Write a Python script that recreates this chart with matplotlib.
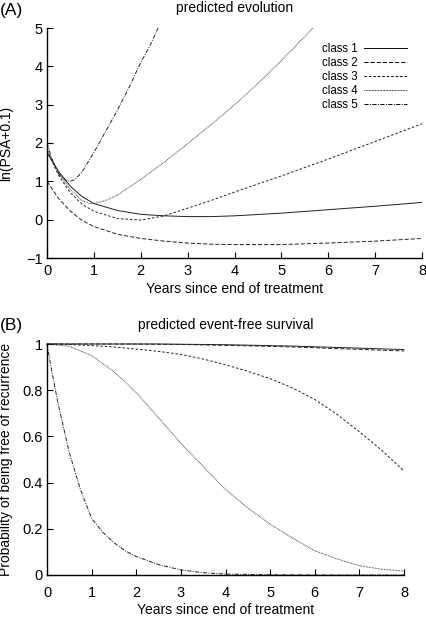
import numpy as np
import matplotlib
matplotlib.use('Agg')
import matplotlib.pyplot as plt

plt.rcParams['font.family'] = ['Liberation Sans', 'DejaVu Sans']
plt.rcParams['lines.scale_dashes'] = False

# ---- panel A: predicted evolution of ln(PSA+0.1) ----
t_a = [0, 0.25, 0.5, 0.75, 1, 1.5, 2, 2.5, 3, 3.5, 4, 5, 6, 7, 8]
a_class1 = [1.75, 1.25, 0.87, 0.60, 0.42, 0.24, 0.14, 0.10, 0.08, 0.08, 0.10, 0.17, 0.26, 0.35, 0.45]
a_class2 = [1.00, 0.55, 0.22, -0.02, -0.18, -0.38, -0.49, -0.56, -0.61, -0.64, -0.65, -0.65, -0.61, -0.56, -0.49]
a_class3 = [1.80, 1.15, 0.70, 0.40, 0.22, 0.03, -0.01, 0.10, 0.30, 0.50, 0.72, 1.14, 1.58, 2.04, 2.50]
t_a4 = [0, 0.25, 0.5, 0.75, 0.9, 1.0, 1.25, 1.5, 2, 2.5, 3, 3.5, 4, 4.5, 5, 5.5, 5.67]
a_class4 = [1.85, 1.20, 0.78, 0.50, 0.42, 0.42, 0.50, 0.64, 1.05, 1.50, 1.98, 2.48, 3.00, 3.55, 4.15, 4.78, 5.00]
t_a5 = [0, 0.1, 0.25, 0.4, 0.5, 0.6, 0.75, 1.0, 1.25, 1.5, 1.75, 2.0, 2.2, 2.37]
a_class5 = [2.00, 1.60, 1.20, 1.03, 1.00, 1.05, 1.25, 1.75, 2.30, 2.85, 3.45, 4.10, 4.55, 5.00]

# ---- panel B: predicted event-free survival ----
t_b = [0, 0.5, 1, 1.5, 2, 2.5, 3, 3.5, 4, 4.5, 5, 5.5, 6, 6.5, 7, 7.5, 8]
b_class1 = [1, 1, 1, 1, 1, 1, 0.999, 0.998, 0.997, 0.995, 0.993, 0.991, 0.988, 0.985, 0.982, 0.979, 0.976]
b_class2 = [1, 1, 1, 1, 1, 0.999, 0.998, 0.996, 0.994, 0.992, 0.990, 0.987, 0.984, 0.980, 0.977, 0.973, 0.970]
b_class3 = [1, 0.998, 0.993, 0.987, 0.978, 0.968, 0.955, 0.935, 0.91, 0.882, 0.85, 0.81, 0.76, 0.695, 0.62, 0.54, 0.45]
b_class4 = [1, 0.99, 0.95, 0.88, 0.79, 0.68, 0.57, 0.47, 0.37, 0.29, 0.22, 0.16, 0.105, 0.07, 0.04, 0.025, 0.017]
t_b5 = [0, 0.1, 0.25, 0.5, 0.75, 1, 1.25, 1.5, 1.75, 2, 2.5, 3, 3.5, 4, 5, 6, 7, 8]
b_class5 = [1, 0.89, 0.74, 0.53, 0.37, 0.245, 0.185, 0.14, 0.105, 0.08, 0.045, 0.022, 0.01, 0.004, 0.001, 0, 0, 0]

labels = ['class 1', 'class 2', 'class 3', 'class 4', 'class 5']
styles = ['-', (0, (3.0, 1.4)), (0, (1.8, 1.4)), (0, (0.5, 0.6)), (0, (3.0, 1.0, 0.7, 1.0))]

x_ticks = [0, 1, 2, 3, 4, 5, 6, 7, 8]
a_yticks = [-1, 0, 1, 2, 3, 4, 5]
a_yticklabels = ['\u22121', '0', '1', '2', '3', '4', '5']
b_yticks = [0, 0.2, 0.4, 0.6, 0.8, 1]
b_yticklabels = ['0', '0.2', '0.4', '0.6', '0.8', '1']

W, H = 426, 618
fig = plt.figure(figsize=(W / 100, H / 100), dpi=100)

def px_axes(x0, y0, x1, y1):
    # pixel box (left, top, right, bottom) -> figure fraction
    return fig.add_axes([x0 / W, 1 - y1 / H, (x1 - x0) / W, (y1 - y0) / H])

def style_axes(ax, xpad):
    for s in ['top', 'right']:
        ax.spines[s].set_visible(False)
    for s in ['left', 'bottom']:
        ax.spines[s].set_linewidth(1.0)
    ax.tick_params(direction='in', length=4, width=0.8, labelsize=10.5)
    ax.tick_params(axis='x', pad=xpad)
    ax.tick_params(axis='y', pad=3)
    ax.set_xlim(0, 8)
    ax.set_xticks(x_ticks)
    ax.set_xticklabels([str(v) for v in x_ticks])

lc = '#222222'
lw = 0.7

# panel A
ax1 = px_axes(47, 28, 422, 258)
style_axes(ax1, 4)
ax1.set_ylim(-1, 5)
ax1.set_yticks(a_yticks)
ax1.set_yticklabels(a_yticklabels)
a_x = [t_a, t_a, t_a, t_a4, t_a5]
a_y = [a_class1, a_class2, a_class3, a_class4, a_class5]
for xs, ys, ls, lab in zip(a_x, a_y, styles, labels):
    ax1.plot(xs, ys, color=lc, lw=lw, ls=ls, label=lab)
leg = ax1.legend(loc='upper right', bbox_to_anchor=(407 / W, 1 - 43 / H),
                 bbox_transform=fig.transFigure, frameon=False, markerfirst=False,
                 fontsize=8.3, handlelength=3.7, handletextpad=0.55,
                 labelspacing=0.18, borderpad=0, borderaxespad=0)
for h in leg.get_lines():
    h.set_color('black')
ax1.set_xlabel('Years since end of treatment', fontsize=10)
ax1.xaxis.set_label_coords(0.5, -0.104)
ax1.xaxis.label.set_va('top')
ax1.set_ylabel('ln(PSA+0.1)', fontsize=10)
ax1.yaxis.set_label_coords(-0.09, 0.5)

# panel B
ax2 = px_axes(47, 344, 404, 575)
style_axes(ax2, 8)
ax2.set_ylim(0, 1)
ax2.set_yticks(b_yticks)
ax2.set_yticklabels(b_yticklabels)
b_x = [t_b, t_b, t_b, t_b, t_b5]
b_y = [b_class1, b_class2, b_class3, b_class4, b_class5]
for xs, ys, ls, lab in zip(b_x, b_y, styles, labels):
    ax2.plot(xs, ys, color=lc, lw=lw, ls=ls, label=lab, clip_on=False)
ax2.set_xlabel('Years since end of treatment', fontsize=10)
ax2.xaxis.set_label_coords(0.5, -0.121)
ax2.xaxis.label.set_va('top')
ax2.set_ylabel('Probability of being free of recurrence', fontsize=10)
ax2.yaxis.set_label_coords(-0.094, 0.5)

# titles and panel letters
fig.text(234.5 / W, 1 - 8 / H, 'predicted evolution', ha='center', va='center', fontsize=10)
fig.text(225.5 / W, 1 - 325 / H, 'predicted event-free survival', ha='center', va='center', fontsize=10)
fig.text(0, 1 - 11 / H, '(A)', ha='left', va='center', fontsize=12.5)
fig.text(0, 1 - 326 / H, '(B)', ha='left', va='center', fontsize=12.5)

fig.savefig('out.png', dpi=100)
